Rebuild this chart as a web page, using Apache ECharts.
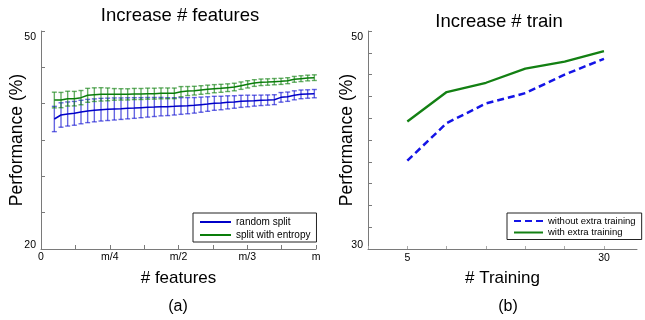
<!DOCTYPE html>
<html><head><meta charset="utf-8">
<script src="https://cdn.jsdelivr.net/npm/echarts@6/dist/echarts.min.js"></script>
<style>html,body{margin:0;padding:0;background:#fff}#c{width:645px;height:320px}</style>
</head><body><div id="c"></div>
<script>
// ---- Panel (a): Increase # features ----
const featureCounts = [2,3,4,5,6,7,8,9,10,11,12,13,14,15,16,17,18,19,20,21,22,23,24,25,26,27,28,29,30,31,32,33,34,35,36,37,38,39,40,41];
const featureMax = 41.25;
const featureTickLabels = ['0','m/4','m/2','m/3','m'];
const randomSplitMean = [37.89,38.44,38.58,38.67,38.85,38.99,39.08,39.17,39.22,39.27,39.31,39.36,39.40,39.45,39.50,39.54,39.59,39.59,39.63,39.68,39.72,39.77,39.86,39.95,40.05,40.09,40.18,40.23,40.32,40.37,40.41,40.46,40.50,40.55,40.87,40.96,41.15,41.28,41.33,41.38];
const randomSplitErr = [1.74,1.68,1.66,1.64,1.62,1.60,1.58,1.56,1.54,1.52,1.48,1.45,1.42,1.38,1.35,1.31,1.27,1.23,1.19,1.15,1.11,1.07,1.04,1.00,0.96,0.93,0.90,0.86,0.83,0.80,0.75,0.72,0.70,0.68,0.66,0.64,0.62,0.60,0.58,0.57];
const entropyMean = [40.50,40.50,40.69,40.69,40.83,41.15,41.24,41.28,41.28,41.28,41.28,41.28,41.33,41.33,41.38,41.38,41.42,41.42,41.42,41.65,41.74,41.79,41.88,41.97,42.06,42.11,42.20,42.29,42.48,42.66,42.84,42.94,42.98,43.03,43.07,43.16,43.35,43.44,43.53,43.58];
const entropyErr = [1.08,1.05,1.02,1.00,0.98,0.96,0.94,0.92,0.88,0.80,0.78,0.77,0.77,0.76,0.76,0.75,0.75,0.74,0.73,0.70,0.62,0.60,0.59,0.58,0.56,0.55,0.53,0.52,0.51,0.50,0.46,0.45,0.44,0.43,0.42,0.41,0.40,0.40,0.39,0.39];
const perfTicksA = [20,25,30,35,40,45,50];
const perfLabelsA = [20,50];

// ---- Panel (b): Increase # train ----
const trainSizes = [5,10,15,20,25,30];
const trainMax = 34.2;
const trainTicks = [0,5,10,15,20,25,30];
const trainTickLabels = [5,30];
const withoutExtra = [38.1,41.55,43.35,44.3,46.0,47.45];
const withExtra = [41.7,44.4,45.25,46.55,47.2,48.15];
const perfTicksB = [30,32,34,36,38,40,42,44,46,48,50];
const perfLabelsB = [30,50];

const FONT = '"Liberation Sans", Arial, Helvetica, sans-serif';
const AX = '#7a7a7a';

function errBars(means, errs, color) {
  return {
    type: 'custom', xAxisIndex: 0, yAxisIndex: 0, silent: true,
    data: featureCounts.map((f, i) => [f, means[i] - errs[i], means[i] + errs[i]]),
    encode: { x: 0, y: [1, 2] },
    renderItem: function (params, api) {
      const x = api.value(0);
      const lo = api.coord([x, api.value(1)]);
      const hi = api.coord([x, api.value(2)]);
      const w = 2.5;
      const st = { stroke: color, lineWidth: 1.4 };
      return { type: 'group', children: [
        { type: 'line', shape: { x1: lo[0], y1: lo[1], x2: hi[0], y2: hi[1] }, style: st },
        { type: 'line', shape: { x1: lo[0] - w, y1: lo[1], x2: lo[0] + w, y2: lo[1] }, style: st },
        { type: 'line', shape: { x1: hi[0] - w, y1: hi[1], x2: hi[0] + w, y2: hi[1] }, style: st }
      ]};
    }
  };
}

function yLabel(maxV) {
  return {
    show: true, margin: 5, color: '#000', fontSize: 10.5, fontFamily: FONT,
    formatter: v => (v === maxV ? '{t|' + v + '}' : '{b|' + v + '}'),
    rich: {
      t: { padding: [12, 0, 0, 0], fontSize: 10.5, fontFamily: FONT, color: '#000' },
      b: { padding: [0, 0, 8, 0], fontSize: 10.5, fontFamily: FONT, color: '#000' }
    }
  };
}

const quarter = featureMax / 4;
const eighthTicks = [0,1,2,3,4,5,6,7,8].map(k => k * featureMax / 8);

const legendBase = {
  orient: 'vertical', borderColor: '#222', borderWidth: 1, backgroundColor: '#fff',
  itemStyle: { opacity: 0 }
};

const option = {
  animation: false,
  backgroundColor: '#fff',
  title: [
    { text: 'Increase # features', left: 180, top: 6, textAlign: 'center', padding: 0,
      textStyle: { fontSize: 18.5, fontWeight: 'normal', color: '#000', fontFamily: FONT } },
    { text: 'Increase # train', left: 499, top: 12, textAlign: 'center', padding: 0,
      textStyle: { fontSize: 18.5, fontWeight: 'normal', color: '#000', fontFamily: FONT } },
    { text: '(a)', left: 178, top: 299, textAlign: 'center', padding: 0,
      textStyle: { fontSize: 16, fontWeight: 'normal', color: '#000', fontFamily: FONT } },
    { text: '(b)', left: 508, top: 299, textAlign: 'center', padding: 0,
      textStyle: { fontSize: 16, fontWeight: 'normal', color: '#000', fontFamily: FONT } }
  ],
  grid: [
    { left: 41, top: 31, width: 275, height: 218 },
    { left: 368, top: 31, width: 269, height: 218 }
  ],
  legend: [
    Object.assign({}, legendBase, { data: ['random split', 'split with entropy'], left: 193, top: 213,
      padding: [4, 6, 2, 6], itemGap: 3, itemWidth: 31, itemHeight: 10,
      textStyle: { fontSize: 10, color: '#000', fontFamily: FONT } }),
    Object.assign({}, legendBase, { data: ['without extra training', 'with extra training'], left: 507, top: 213,
      padding: [3, 6, 2, 6], itemGap: 1.5, itemWidth: 29, itemHeight: 10,
      textStyle: { fontSize: 9.5, color: '#000', fontFamily: FONT } })
  ],
  xAxis: [
    { type: 'value', gridIndex: 0, min: 0, max: featureMax,
      name: '# features', nameLocation: 'middle', nameGap: 21, nameMoveOverlap: false,
      nameTextStyle: { fontSize: 17, color: '#000', fontFamily: FONT },
      axisLine: { show: true, lineStyle: { color: AX, width: 1 } },
      axisTick: { show: true, inside: true, length: 4, customValues: eighthTicks, lineStyle: { color: AX } },
      axisLabel: { show: true, margin: 3, color: '#000', fontSize: 10.5, fontFamily: FONT,
        customValues: [0, quarter, 2 * quarter, 3 * quarter, featureMax],
        formatter: v => featureTickLabels[Math.round(v / quarter)] },
      splitLine: { show: false } },
    { type: 'value', gridIndex: 1, min: 0, max: trainMax,
      name: '# Training', nameLocation: 'middle', nameGap: 21, nameMoveOverlap: false,
      nameTextStyle: { fontSize: 17, color: '#000', fontFamily: FONT },
      axisLine: { show: true, lineStyle: { color: AX, width: 1 } },
      axisTick: { show: true, inside: true, length: 3, customValues: trainTicks, lineStyle: { color: '#aaa' } },
      axisLabel: { show: true, margin: 4, color: '#000', fontSize: 10.5, fontFamily: FONT,
        customValues: trainTickLabels, formatter: v => String(v) },
      splitLine: { show: false } }
  ],
  yAxis: [
    { type: 'value', gridIndex: 0, min: 20, max: 50,
      name: 'Performance (%)', nameLocation: 'middle', nameGap: 15, nameRotate: 90, nameMoveOverlap: false,
      nameTextStyle: { fontSize: 17.5, color: '#000', fontFamily: FONT },
      axisLine: { show: true, lineStyle: { color: AX, width: 1 } },
      axisTick: { show: true, inside: true, length: 4, customValues: perfTicksA, lineStyle: { color: AX } },
      axisLabel: Object.assign(yLabel(50), { customValues: perfLabelsA }),
      splitLine: { show: false } },
    { type: 'value', gridIndex: 1, min: 30, max: 50,
      name: 'Performance (%)', nameLocation: 'middle', nameGap: 12, nameRotate: 90, nameMoveOverlap: false,
      nameTextStyle: { fontSize: 17.5, color: '#000', fontFamily: FONT },
      axisLine: { show: true, lineStyle: { color: AX, width: 1 } },
      axisTick: { show: true, inside: true, length: 4, customValues: perfTicksB, lineStyle: { color: AX } },
      axisLabel: Object.assign(yLabel(50), { customValues: perfLabelsB }),
      splitLine: { show: false } }
  ],
  series: [
    errBars(randomSplitMean, randomSplitErr, 'rgba(20,20,210,0.65)'),
    { name: 'random split', type: 'line', xAxisIndex: 0, yAxisIndex: 0, symbol: 'none',
      data: featureCounts.map((f, i) => [f, randomSplitMean[i]]),
      lineStyle: { color: '#0000c8', width: 1.5 }, itemStyle: { color: '#0000c8' }, z: 3 },
    errBars(entropyMean, entropyErr, 'rgba(20,130,20,0.65)'),
    { name: 'split with entropy', type: 'line', xAxisIndex: 0, yAxisIndex: 0, symbol: 'none',
      data: featureCounts.map((f, i) => [f, entropyMean[i]]),
      lineStyle: { color: '#0a7d0a', width: 1.5 }, itemStyle: { color: '#0a7d0a' }, z: 3 },
    { name: 'without extra training', type: 'line', xAxisIndex: 1, yAxisIndex: 1, symbol: 'none',
      data: trainSizes.map((t, i) => [t, withoutExtra[i]]),
      lineStyle: { color: '#1414e6', width: 2.5, type: [7, 4] }, itemStyle: { color: '#1414e6' } },
    { name: 'with extra training', type: 'line', xAxisIndex: 1, yAxisIndex: 1, symbol: 'none',
      data: trainSizes.map((t, i) => [t, withExtra[i]]),
      lineStyle: { color: '#138013', width: 2.3 }, itemStyle: { color: '#138013' } }
  ]
};

const chart = echarts.init(document.getElementById('c'), null, { renderer: 'canvas' });
chart.setOption(option);
</script>
</body></html>
